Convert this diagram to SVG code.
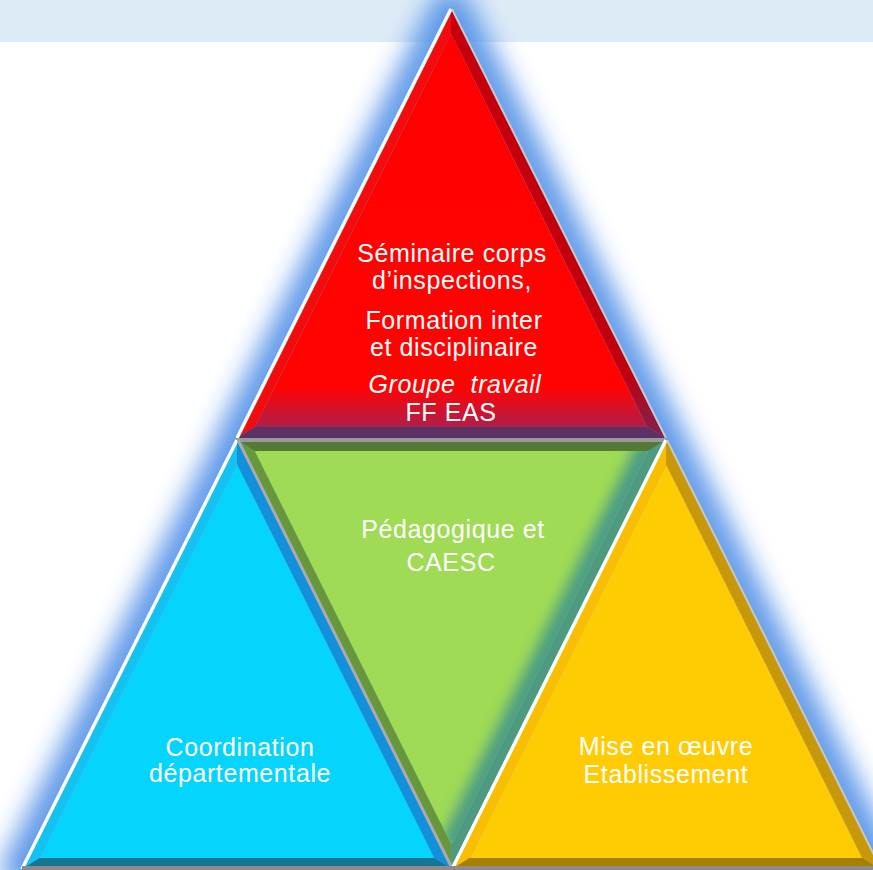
<svg xmlns="http://www.w3.org/2000/svg" width="873" height="870" viewBox="0 0 873 870">
  <style>
    .lbl { font-family: "Liberation Sans", Arial, sans-serif; font-size: 25px; letter-spacing: 0.6px; fill: #FFFFFF; text-anchor: middle; }
    .it { font-style: italic; white-space: pre; }
    .hl { stroke: #FFFFFF; stroke-width: 3.5; fill: none; }
    .gl { stroke: #A9A9B4; stroke-width: 3; fill: none; }
    .glw { fill: none; stroke: #5593E8; stroke-width: 40; stroke-linejoin: round; }
  </style>
  <defs>
    <filter id="blur" x="-30%" y="-30%" width="160%" height="160%">
      <feGaussianBlur stdDeviation="13"/>
    </filter>
    <filter id="soft" x="-20%" y="-20%" width="140%" height="140%">
      <feGaussianBlur stdDeviation="7"/>
    </filter>
    <linearGradient id="redFace" x1="0" y1="33.6" x2="0" y2="427" gradientUnits="userSpaceOnUse">
      <stop offset="0" stop-color="#FF0000"/>
      <stop offset="0.9" stop-color="#FF0303"/>
      <stop offset="1" stop-color="#B01E4A"/>
    </linearGradient>
    <linearGradient id="redRight" x1="0" y1="9" x2="0" y2="438" gradientUnits="userSpaceOnUse">
      <stop offset="0" stop-color="#C6000C"/>
      <stop offset="0.85" stop-color="#C0000E"/>
      <stop offset="1" stop-color="#7E2450"/>
    </linearGradient>
    <clipPath id="greenClip">
      <polygon points="254.8,451 648.2,451 451.5,844.4"/>
    </clipPath>
  </defs>

  <rect x="0" y="0" width="873" height="42" fill="#DDEBF7"/>

  <g id="glow" filter="url(#blur)" opacity="0.95">
    <polygon points="451,9 237,438 665,438" class="glw"/>
    <polygon points="237,440 22,869 452,869" class="glw"/>
    <polygon points="666,440 452,869 880,869" class="glw"/>
  </g>

  <g id="connectors"/>

  <g id="node-red">
    <polygon points="451,9 237,438 254.8,427 451,33.6" fill="#F20C0C"/>
    <polygon points="451,9 665,438 647.2,427 451,33.6" fill="url(#redRight)"/>
    <polygon points="237,438 665,438 647.2,427 254.8,427" fill="#5B3266"/>
    <polygon points="451,33.6 254.8,427 647.2,427" fill="url(#redFace)"/>
    <line x1="451" y1="9" x2="237" y2="438" class="hl"/>
    <line x1="452" y1="9" x2="666" y2="438" stroke="#C9C6CE" stroke-width="2"/>
    <text class="lbl" x="452" y="262">Séminaire corps</text>
    <text class="lbl" x="452" y="289">d’inspections,</text>
    <text class="lbl" x="454" y="329">Formation inter</text>
    <text class="lbl" x="454" y="356">et disciplinaire</text>
    <text class="lbl it" x="455" y="393" fill="#F6F2F2">Groupe  travail</text>
    <text class="lbl" x="451" y="421">FF EAS</text>
  </g>

  <g id="node-green">
    <polygon points="237,440 666,440 648.2,451 254.8,451" fill="#567A36"/>
    <polygon points="237,440 451.5,869 451.5,844.4 254.8,451" fill="#66973A"/>
    <polygon points="666,440 451.5,869 451.5,844.4 648.2,451" fill="#4E9A80"/>
    <polygon points="254.8,451 648.2,451 451.5,844.4" fill="#A0DB55"/>
    <g clip-path="url(#greenClip)">
      <line x1="652" y1="445" x2="452" y2="850" stroke="#4A9C88" stroke-width="28" filter="url(#soft)"/>
    </g>
    <line x1="237" y1="440" x2="666" y2="440" stroke="#9A9A9A" stroke-width="4"/>
    <line x1="237" y1="440" x2="451.5" y2="869" class="gl"/>
    <text class="lbl" x="453" y="538" fill="#F4F8EC">Pédagogique et</text>
    <text class="lbl" x="451" y="571" fill="#F4F8EC">CAESC</text>
  </g>

  <g id="node-blue">
    <polygon points="237,440 22,869 39.8,858 237,464.6" fill="#14C2F2"/>
    <polygon points="237,440 452,869 434.2,858 237,464.6" fill="#1390DA"/>
    <polygon points="22,869 452,869 434.2,858 39.8,858" fill="#167592"/>
    <polygon points="237,464.6 39.8,858 434.2,858" fill="#05D4FD"/>
    <line x1="237" y1="440" x2="22" y2="869" class="hl"/>
    <line x1="238" y1="440" x2="452" y2="868" class="gl"/>
    <text class="lbl" x="240" y="756">Coordination</text>
    <text class="lbl" x="240" y="782">départementale</text>
  </g>

  <g id="node-yellow">
    <polygon points="666,440 452,869 469.8,858 666,464.6" fill="#F9BE00"/>
    <polygon points="666,440 880,869 862.2,858 666,464.6" fill="#C8980C"/>
    <polygon points="452,869 880,869 862.2,858 469.8,858" fill="#A88000"/>
    <polygon points="666,464.6 469.8,858 862.2,858" fill="#FFCB02"/>
    <line x1="666" y1="440" x2="452" y2="869" class="hl"/>
    <line x1="667" y1="440" x2="881" y2="869" stroke="#D0C8B0" stroke-width="2"/>
    <text class="lbl" x="666" y="755">Mise en œuvre</text>
    <text class="lbl" x="666" y="783">Etablissement</text>
  </g>

  <rect x="22" y="866" width="851" height="4" fill="#8C8C8C"/>
</svg>
